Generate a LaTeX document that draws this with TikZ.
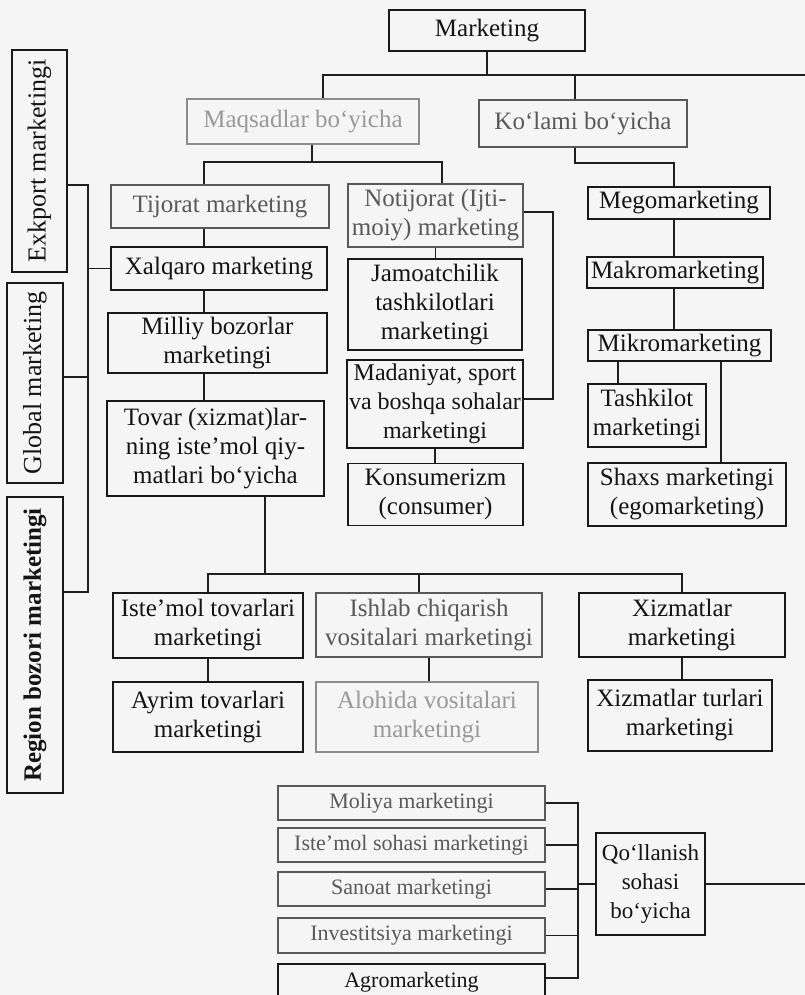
\documentclass[tikz,border=0pt]{standalone}
\usepackage{fontspec}
\setmainfont{Liberation Serif}
\usetikzlibrary{positioning,calc}

\begin{document}
\begin{tikzpicture}[
  x=1pt, y=-1pt,
  box/.style={draw=black!90, line width=1.8pt, align=center, inner sep=1pt, text=black!92, font=\fontsize{25}{29}\selectfont},
  lite/.style={box, draw=black!65, line width=1.3pt, text=black!65},
  pale/.style={box, draw=black!45, line width=1.1pt, text=black!40},
  side/.style={box, rotate=90, font=\fontsize{26}{30}\selectfont},
  lowrow/.style={font=\fontsize{22}{26}\selectfont},
  wh/.style 2 args={minimum width=#1, minimum height=#2},
  link/.style={line width=1.6pt, draw=black!88}
]
\useasboundingbox (0,0) rectangle (805,995);
\fill[black!4] (0,0) rectangle (805,995);

\node[box, wh={196}{41}] (mkt) at (487,30.5) {Marketing};
\node[pale, wh={232}{45}] (maq) at (303,121.5) {Maqsadlar bo‘yicha};
\node[lite, wh={208}{47}] (kol) at (583,123.5) {Ko‘lami bo‘yicha};
\node[lite, wh={218}{43}] (tij) at (220,206.5) {Tijorat marketing};
\node[lite, wh={175}{63}] (not) at (435.5,215.5) {Notijorat (Ijti-\\moiy) marketing};
\node[box, wh={182}{32}] (meg) at (679,203) {Megomarketing};
\node[box, wh={216}{43}] (xal) at (219,268.5) {Xalqaro marketing};
\node[box, wh={174}{91}] (jam) at (435,304.5) {Jamoatchilik\\tashkilotlari\\marketingi};
\node[box, wh={176}{31}] (mak) at (675,272.5) {Makromarketing};
\node[box, wh={219}{60}] (mil) at (217.5,343) {Milliy bozorlar\\marketingi};
\node[box, wh={176}{88}, font=\fontsize{24}{29}\selectfont] (mad) at (435,404) {Madaniyat, sport\\va boshqa sohalar\\marketingi};
\node[box, wh={183}{31}] (mik) at (679.5,345.5) {Mikromarketing};
\node[box, wh={217}{95}] (tov) at (215.5,448.5) {Tovar (xizmat)lar-\\ning iste’mol qiy-\\matlari bo‘yicha};
\node[box, wh={118}{63}] (tas) at (647,415.5) {Tashkilot\\marketingi};
\node[box, wh={175}{62}] (kon) at (435.5,494.5) {Konsumerizm\\(consumer)};
\node[box, wh={198}{63}] (sha) at (687,494.5) {Shaxs marketingi\\(egomarketing)};
\node[box, wh={190}{65}] (ist) at (208,625.5) {Iste’mol tovarlari\\marketingi};
\node[lite, wh={226}{64}] (ish) at (429,625) {Ishlab chiqarish\\vositalari marketingi};
\node[box, wh={206}{64}] (xiz) at (682,625) {Xizmatlar\\marketingi};
\node[box, wh={190}{70}] (ayr) at (208,717) {Ayrim tovarlari\\marketingi};
\node[pale, wh={222}{70}] (alo) at (427,717) {Alohida vositalari\\marketingi};
\node[box, wh={184}{71}] (xtu) at (680,715.5) {Xizmatlar turlari\\marketingi};

\node[lite, lowrow, wh={267}{34}] (mol) at (411.5,803) {Moliya marketingi};
\node[lite, lowrow, wh={267}{34}] (iss) at (411.5,845) {Iste’mol sohasi marketingi};
\node[lite, lowrow, wh={267}{34}] (san) at (411.5,889) {Sanoat marketingi};
\node[lite, lowrow, wh={267}{35}] (inv) at (411.5,935.5) {Investitsiya marketingi};
\node[box, lowrow, wh={267}{36}] (agr) at (411.5,982) {Agromarketing};
\node[box, font=\fontsize{23}{29}\selectfont, wh={109}{102}] (qol) at (650.5,884) {Qo‘llanish\\sohasi\\bo‘yicha};

\node[side, wh={222}{55}] (exk) at (39.5,161) {Exkport marketingi};
\node[side, wh={200}{56}] (glo) at (35,383) {Global marketing};
\node[side, wh={296}{56}, line width=2.2pt, font=\bfseries\fontsize{25}{30}\selectfont] (reg) at (35,645) {Region bozori marketingi};

\coordinate (rim) at (805,75);
\coordinate (mb) at (0,162);
\coordinate (kb) at (0,163);
\coordinate (tb) at (0,574);
\coordinate (colA) at (204,0);
\coordinate (colB) at (553,0);
\coordinate (colC) at (674,0);
\coordinate (colD) at (618,0);
\coordinate (colE) at (721,0);
\coordinate (colF) at (578,0);
\coordinate (colL) at (88,0);

\coordinate (maqN) at ([xshift=20pt]maq.north);
\coordinate (maqS) at ([xshift=9pt]maq.south);
\coordinate (kolN) at ([xshift=-8pt]kol.north);
\coordinate (kolS) at ([xshift=-8pt]kol.south);
\coordinate (notN) at ([xshift=6.5pt]not.north);
\coordinate (notE) at ([yshift=3.5pt]not.east);
\coordinate (madE) at ([yshift=5pt]mad.east);
\coordinate (tovS) at ([xshift=49.5pt]tov.south);
\coordinate (ishN) at ([xshift=-10pt]ish.north);
\coordinate (agrE) at ([yshift=4pt]agr.east);
\coordinate (exkE) at ([yshift=-24pt]exk.south);
\coordinate (gloE) at ([yshift=6pt]glo.south);
\coordinate (regE) at ([yshift=53pt]reg.south);

\draw[link] (mkt.south) -- (mkt.south |- rim);
\draw[link] (maqN) |- (rim);
\draw[link] (kolN) -- (kolN |- rim);

\draw[link] (maqS) -- (maqS |- mb);
\draw[link] (colA |- tij.north) |- (notN |- mb) -- (notN);
\draw[link] (kolS) |- (colC |- kb) -- (colC |- meg.north);

\draw[link] (colA |- tij.south) -- (colA |- xal.north);
\draw[link] (colA |- xal.south) -- (colA |- mil.north);
\draw[link] (colA |- mil.south) -- (colA |- tov.north);

\draw[link] (not.south) -- (not.south |- jam.north);
\draw[link] (mad.south) -- (mad.south |- kon.north);
\draw[link] (notE) -| (colB |- madE) -- (madE);

\draw[link] (colC |- meg.south) -- (colC |- mak.north);
\draw[link] (colC |- mak.south) -- (colC |- mik.north);
\draw[link] (colD |- mik.south) -- (colD |- tas.north);
\draw[link] (colE |- mik.south) -- (colE |- sha.north);

\draw[link] (tovS) -- (tovS |- tb);
\draw[link] (ist.north) |- (xiz.north |- tb) -- (xiz.north);
\draw[link] (ishN) -- (ishN |- tb);
\draw[link] (ist.south) -- (ist.south |- ayr.north);
\draw[link] (ish.south) -- (ish.south |- alo.north);
\draw[link] (xiz.south) -- (xiz.south |- xtu.north);

\draw[link] (exkE) -| (colL |- regE) -- (regE);
\draw[link] (gloE) -- (colL |- gloE);
\draw[link] (xal.west) -- (colL |- xal.west);

\draw[link] (mol.east) -| (colF |- agrE) -- (agrE);
\foreach \n in {iss,san,inv} {\draw[link] (\n.east) -- (colF |- \n.east);}
\draw[link] (colF |- qol.west) -- (qol.west);
\draw[link] (qol.east) -- (rim |- qol.east);
\end{tikzpicture}
\end{document}
